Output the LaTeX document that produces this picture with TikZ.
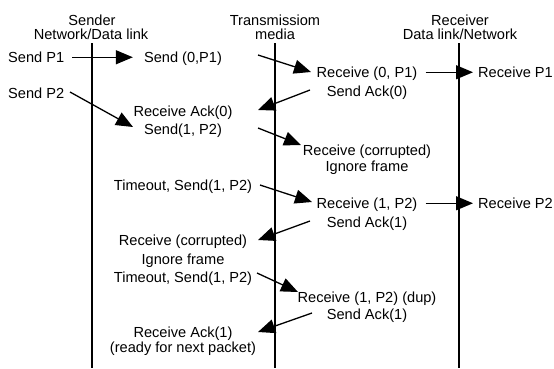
\documentclass[tikz,border=0pt]{standalone}
\usepackage{fontspec}
\setmainfont{Liberation Sans}
\usetikzlibrary{arrows.meta}
\tikzset{
  lbl/.style={inner sep=0pt, text height=10.5pt, text depth=0pt, font=\fontsize{14.6}{17.5}\selectfont, anchor=base},
  lblw/.style={lbl, anchor=base west},
  life/.style={line width=1.7pt},
  msg/.style={line width=1.3pt, -{Triangle[length=17pt,width=14pt]}},
}
\begin{document}
\begin{tikzpicture}[x=1pt,y=-1pt]
\useasboundingbox (0,0) rectangle (554,368);
% headers
\node[lbl] (h1a) at (92,25) {Sender};
\node[lbl] (h1b) at (91,39.5) {Network/Data link};
\node[lbl] (h2a) at (275,25) {Transmissiom};
\node[lbl] (h2b) at (275,39.5) {media};
\node[lbl] (h3a) at (460,25) {Receiver};
\node[lbl] (h3b) at (460,39.5) {Data link/Network};
% lifelines
\coordinate (s0) at (92,43); \coordinate (s1) at (92,368);
\coordinate (m0) at (275,43); \coordinate (m1) at (275,368);
\coordinate (r0) at (459,43); \coordinate (r1) at (459,368);
\draw[life] (s0) -- (s1);
\draw[life] (m0) -- (m1);
\draw[life] (r0) -- (r1);
% texts
\node[lblw] (sp1) at (8,62.5) {Send P1};
\node[lbl] (s0p1) at (183,62.5) {Send (0,P1)};
\node[lbl] (rx0) at (367,77.5) {Receive (0, P1)};
\node[lbl] (ack0) at (367,96) {Send Ack(0)};
\node[lblw] (rp1) at (478,77.5) {Receive P1};
\node[lblw] (sp2) at (8,98) {Send P2};
\node[lbl] (rack0) at (183,116) {Receive Ack(0)};
\node[lbl] (s1p2) at (183,134) {Send(1, P2)};
\node[lbl] (rc1) at (367,155) {Receive (corrupted)};
\node[lbl] (ig1) at (367,171.5) {Ignore frame};
\node[lbl] (to1) at (183,190.5) {Timeout, Send(1, P2)};
\node[lbl] (rx1) at (367,208.5) {Receive (1, P2)};
\node[lbl] (ack1) at (367,227) {Send Ack(1)};
\node[lblw] (rp2) at (478,208.5) {Receive P2};
\node[lbl] (rc2) at (183,245.5) {Receive (corrupted)};
\node[lbl] (ig2) at (183,264) {Ignore frame};
\node[lbl] (to2) at (183,282) {Timeout, Send(1, P2)};
\node[lbl] (rx1d) at (367,302) {Receive (1, P2) (dup)};
\node[lbl] (ack1b) at (367,319) {Send Ack(1)};
\node[lbl] (rack1) at (183,337.5) {Receive Ack(1)};
\node[lbl] (ready) at (183,352.5) {(ready for next packet)};
% arrow end points
\coordinate (a1s) at (258,55);  \coordinate (a1e) at (311,72);
\coordinate (a2s) at (310,90);  \coordinate (a2e) at (258,110);
\coordinate (a3s) at (258,128); \coordinate (a3e) at (301,145);
\coordinate (a4s) at (260,185); \coordinate (a4e) at (312,202);
\coordinate (a5s) at (310,221); \coordinate (a5e) at (258,240);
\coordinate (a6s) at (257,273); \coordinate (a6e) at (298,292);
\coordinate (a7s) at (312,313); \coordinate (a7e) at (258,332);
\coordinate (p2s) at (70,92);   \coordinate (p2e) at (133,127);
% arrows
\draw[msg] (sp1.east) ++(8,0) coordinate (p1s) -- ([xshift=-11pt]s0p1.west);
\draw[msg] (p2s) -- (p2e);
\draw[msg] (a1s) -- (a1e);
\draw[msg] ([xshift=8pt]rx0.east) -- ([xshift=-5pt]rp1.west);
\draw[msg] (a2s) -- (a2e);
\draw[msg] (a3s) -- (a3e);
\draw[msg] (a4s) -- (a4e);
\draw[msg] ([xshift=8pt]rx1.east) -- ([xshift=-5pt]rp2.west);
\draw[msg] (a5s) -- (a5e);
\draw[msg] (a6s) -- (a6e);
\draw[msg] (a7s) -- (a7e);
\end{tikzpicture}
\end{document}
